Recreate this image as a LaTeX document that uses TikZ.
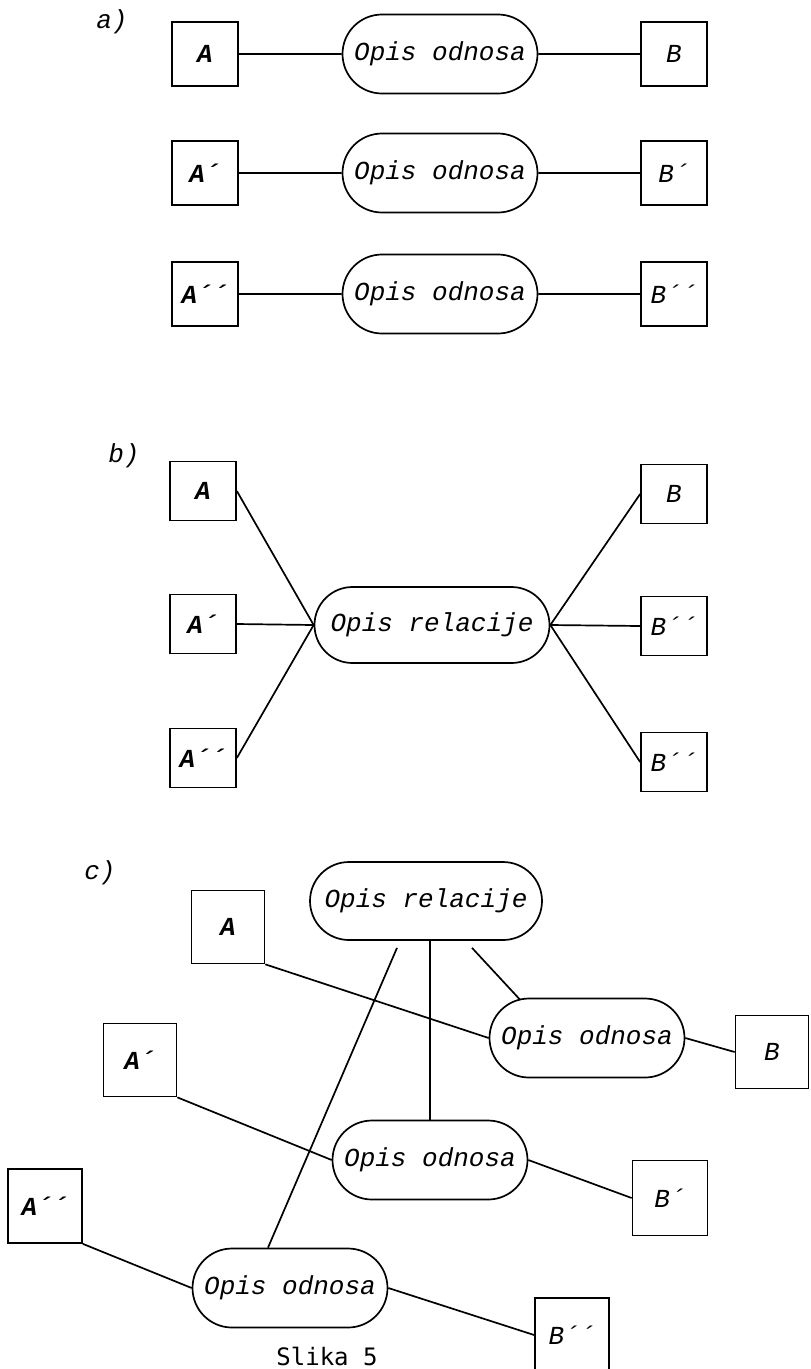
\documentclass[tikz,border=0pt]{standalone}
\usepackage{fontspec}
\setmonofont{Liberation Mono}
\newfontfamily\slikafont{DejaVu Sans Mono}
\usetikzlibrary{shapes.misc,calc}

\begin{document}
\begin{tikzpicture}[x=1pt,y=-1pt,line width=1.7pt,
 oz/.style={font=\fontsize{26}{26}\ttfamily\itshape},
 ent/.style={oz,draw,inner sep=0,minimum width=66pt,minimum height=64pt},
 odn/.style={oz,draw,rounded rectangle,inner sep=0,minimum width=195pt,minimum height=79pt}]
\useasboundingbox (0,0) rectangle (811,1369);

% a)
\node[oz] (la) at (112,22) {a)};
\foreach \y/\s/\n in {54/{}/0,173/´/1,294/´´/2} {
 \node[ent] (aA\n) at (205,\y) {\textbf{A\s}};
 \node[odn] (aO\n) at (440,\y) {Opis odnosa};
 \node[ent] (aB\n) at (674,\y) {B\s};
 \draw (aA\n) -- (aO\n) -- (aB\n);
}

% b)
\node[oz] (lb) at (124,456) {b)};
\node[odn,minimum width=235pt,minimum height=76pt] (bR) at (432,625) {Opis relacije};
\foreach \y/\s/\n in {491/{}/0,624/´/1,758/´´/2} {
 \node[ent,minimum height=59pt] (bA\n) at (203,\y) {\textbf{A\s}};
 \draw (bA\n.east) -- (bR.west);
}
\foreach \y/\s/\n in {494/{}/0,626/´´/1,762/´´/2} {
 \node[ent,minimum height=59pt] (bB\n) at (674,\y) {B\s};
 \draw (bB\n.west) -- (bR.east);
}

% c)
\node[oz] (lc) at (100,873) {c)};
\node[odn,minimum width=232pt,minimum height=78pt] (cR) at (426,901) {Opis relacije};
\node[odn] (cO0) at (587,1038) {Opis odnosa};
\node[odn] (cO1) at (430,1160) {Opis odnosa};
\node[odn] (cO2) at (290,1288) {Opis odnosa};
\node[ent,minimum size=73pt] (cA0) at (228,927) {\textbf{A}};
\node[ent,minimum size=73pt] (cA1) at (140,1060) {\textbf{A´}};
\node[ent,minimum size=74pt] (cA2) at (45,1206) {\textbf{A´´}};
\node[ent,minimum size=73pt] (cB0) at (772,1052) {B};
\node[ent,minimum size=75pt] (cB1) at (670,1198) {B´};
\node[ent,minimum size=74pt] (cB2) at (572,1335) {B´´};
\foreach \n in {0,1,2} {
 \draw (cA\n.south east) -- (cO\n.west);
 \draw (cO\n.east) -- (cB\n.west);
}
\draw ($(cR.south)+(46,7)$) -- ($(cO0.north)+(-67,2)$);
\draw (cR.south -| cO1.north) -- (cO1.north);
\draw ($(cR.south)+(-29,7)$) -- ($(cO2.north)+(-22,0)$);

\node[font=\fontsize{24}{24}\slikafont] (sl) at (327,1356) {Slika 5};
\end{tikzpicture}
\end{document}
